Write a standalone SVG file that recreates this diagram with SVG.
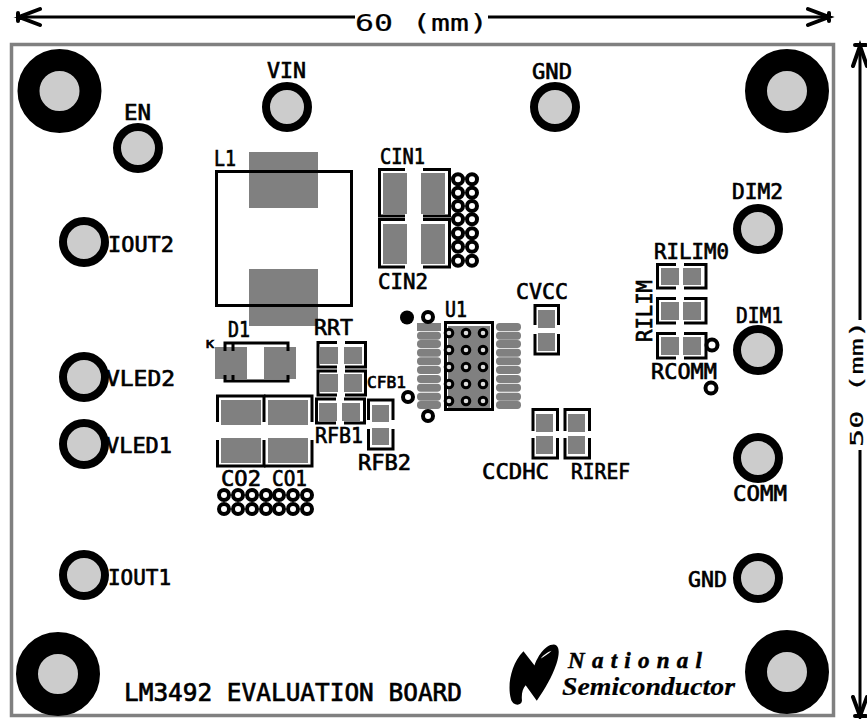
<svg xmlns="http://www.w3.org/2000/svg" width="867" height="719" viewBox="0 0 867 719">
<style>
text{font-family:"DejaVu Sans Mono","Liberation Mono",monospace;font-weight:400;font-size:22px;fill:#000;stroke:#000;stroke-width:.7px}
.pad{fill:#808080}
.ol{fill:none;stroke:#000;stroke-width:3}
.bighole{fill:#ccc;stroke:#000;stroke-width:22}
.tp{fill:#ccc;stroke:#000;stroke-width:8}
.via{fill:#fff;stroke:#000;stroke-width:4}
.uvia{fill:#ddd;stroke:#000;stroke-width:3}
.ipad{fill:#808080}
.dim{fill:none;stroke:#000;stroke-width:3}
.barb{fill:none;stroke:#000;stroke-width:4}
text.logo{font-family:"Liberation Serif",serif;font-style:italic;font-weight:700;stroke-width:.5px}
</style>
<rect width="867" height="719" fill="#fff"/>
<rect id="board" x="11.500" y="44.500" width="822" height="671" fill="none" stroke="#808080" stroke-width="3.500"/>

<g id="connectors">
<path class="dim" d="M18 17H355M488 17H829"/>
<path class="barb" d="M40 9L19 17L40 25M808 9L829 17L808 25M18 13V21M829 13V21" stroke-linecap="round"/>
<path class="dim" d="M860 46V320M860 450V716"/>
<path class="barb" d="M853 66L860 46L867 66M853 697L860 716L867 697M855 45H866M855 716H866" stroke-linecap="round"/>
</g>
<text x="355" y="31" style="font-size:23px;stroke-width:.2px" textLength="133" lengthAdjust="spacingAndGlyphs">60 (mm)</text>
<text transform="translate(863 447) rotate(-90)" style="font-size:18px;stroke-width:.2px" textLength="127" lengthAdjust="spacingAndGlyphs">50 (mm)</text>

<g id="H1"><circle class="bighole" cx="59.500" cy="91" r="31"/></g>
<g id="H2"><circle class="bighole" cx="787" cy="91" r="31"/></g>
<g id="H3"><circle class="bighole" cx="58" cy="674" r="31"/></g>
<g id="H4"><circle class="bighole" cx="787" cy="672" r="31"/></g>

<g id="VIN"><circle class="tp" cx="287" cy="107" r="21"/><text x="267" y="78" textLength="39" lengthAdjust="spacingAndGlyphs">VIN</text></g>
<g id="GND1"><circle class="tp" cx="555" cy="107" r="21"/><text x="532" y="79" textLength="40" lengthAdjust="spacingAndGlyphs">GND</text></g>
<g id="EN"><circle class="tp" cx="138" cy="148" r="21"/><text x="124" y="120" textLength="27" lengthAdjust="spacingAndGlyphs">EN</text></g>
<g id="IOUT2"><circle class="tp" cx="84" cy="242" r="21"/><text x="108" y="252" textLength="66" lengthAdjust="spacingAndGlyphs">IOUT2</text></g>
<g id="VLED2"><circle class="tp" cx="84" cy="377" r="21"/><text x="106" y="386" textLength="69" lengthAdjust="spacingAndGlyphs">VLED2</text></g>
<g id="VLED1"><circle class="tp" cx="84" cy="444" r="21"/><text x="106" y="453" textLength="66" lengthAdjust="spacingAndGlyphs">VLED1</text></g>
<g id="IOUT1"><circle class="tp" cx="84" cy="575" r="21"/><text x="108" y="585" textLength="63" lengthAdjust="spacingAndGlyphs">IOUT1</text></g>
<g id="DIM2"><circle class="tp" cx="758" cy="229" r="21"/><text x="732" y="199" textLength="51" lengthAdjust="spacingAndGlyphs">DIM2</text></g>
<g id="DIM1"><circle class="tp" cx="758" cy="350" r="21"/><text x="736" y="323" textLength="47" lengthAdjust="spacingAndGlyphs">DIM1</text></g>
<g id="COMM"><circle class="tp" cx="758" cy="458" r="21"/><text x="733" y="501" textLength="54" lengthAdjust="spacingAndGlyphs">COMM</text></g>
<g id="GND2"><circle class="tp" cx="758" cy="578" r="21"/><text x="688" y="587" textLength="39" lengthAdjust="spacingAndGlyphs">GND</text></g>

<g id="L1">
<rect class="pad" x="249" y="152" width="69" height="56"/>
<rect class="pad" x="249" y="269" width="69" height="57"/>
<rect class="ol" x="216.500" y="171.500" width="135" height="134"/>
<text x="214" y="166" textLength="22" lengthAdjust="spacingAndGlyphs">L1</text>
</g>

<g id="CIN1">
<rect class="pad" x="383" y="173" width="24" height="41"/><rect class="pad" x="421" y="173" width="24" height="41"/>
<path class="ol" d="M405 169.500H379.500V216H405M423 169.500H449.500V216H423"/>
<text x="380" y="164" textLength="45" lengthAdjust="spacingAndGlyphs">CIN1</text>
</g>
<g id="CIN2">
<rect class="pad" x="383" y="224" width="24" height="40"/><rect class="pad" x="421" y="224" width="24" height="40"/>
<path class="ol" d="M405 219.500H379.500V267H405M423 219.500H449.500V267H423"/>
<text x="378" y="289" textLength="50" lengthAdjust="spacingAndGlyphs">CIN2</text>
</g>
<g id="CIN-vias">
<circle class="via" cx="458" cy="179.300" r="5"/><circle class="via" cx="472" cy="179.300" r="5"/>
<circle class="via" cx="458" cy="192.700" r="5"/><circle class="via" cx="472" cy="192.700" r="5"/>
<circle class="via" cx="458" cy="206" r="5"/><circle class="via" cx="472" cy="206" r="5"/>
<circle class="via" cx="458" cy="219.300" r="5"/><circle class="via" cx="472" cy="219.300" r="5"/>
<circle class="via" cx="458" cy="233.300" r="5"/><circle class="via" cx="472" cy="233.300" r="5"/>
<circle class="via" cx="458" cy="246.700" r="5"/><circle class="via" cx="472" cy="246.700" r="5"/>
<circle class="via" cx="458" cy="260.700" r="5"/><circle class="via" cx="472" cy="260.700" r="5"/>
</g>

<g id="D1">
<rect class="pad" x="215" y="347" width="32" height="32"/><rect class="pad" x="264" y="347" width="32" height="32"/>
<path class="ol" d="M225 351V343H288V351M233 343V351M225 375V381H288V375M233 381V375"/>
<text x="228" y="337" textLength="22" lengthAdjust="spacingAndGlyphs">D1</text>
<text x="206" y="348" style="font-size:10px" textLength="8" lengthAdjust="spacingAndGlyphs">K</text>
</g>

<g id="RRT">
<rect class="pad" x="320" y="347" width="18" height="17"/><rect class="pad" x="344" y="347" width="18" height="17"/>
<path class="ol" d="M337 342.500H318V367H337M345 342.500H365.500V367H345"/>
<text x="314" y="335" textLength="39" lengthAdjust="spacingAndGlyphs">RRT</text>
</g>
<g id="CFB1">
<rect class="pad" x="320" y="374" width="18" height="18"/><rect class="pad" x="344" y="374" width="18" height="18"/>
<path class="ol" d="M337 371H318V395H337M345 371H365.500V395H345"/>
<text x="367" y="388" style="font-size:16px" textLength="39" lengthAdjust="spacingAndGlyphs">CFB1</text>
</g>
<g id="RFB1">
<rect class="pad" x="319" y="403" width="18" height="18"/><rect class="pad" x="342" y="403" width="18" height="18"/>
<path class="ol" d="M336 399H316.500V423H336M344 399H364.500V423H344"/>
<text x="315" y="443" textLength="48" lengthAdjust="spacingAndGlyphs">RFB1</text>
</g>
<g id="RFB2">
<rect class="pad" x="372" y="405" width="17" height="17"/><rect class="pad" x="372" y="428" width="17" height="17"/>
<path class="ol" d="M368.500 420V400H393V420M368.500 429V449H393V429"/>
<text x="358" y="470" textLength="53" lengthAdjust="spacingAndGlyphs">RFB2</text>
</g>

<g id="CO2">
<rect class="pad" x="221" y="400" width="40" height="25"/><rect class="pad" x="221" y="438" width="40" height="25"/>
<path class="ol" d="M217.500 422V396H264V422M217.500 440V466H264V440"/>
<text x="221" y="486" textLength="40" lengthAdjust="spacingAndGlyphs">CO2</text>
</g>
<g id="CO1">
<rect class="pad" x="268" y="400" width="40" height="25"/><rect class="pad" x="268" y="438" width="40" height="25"/>
<path class="ol" d="M264 396H312V422M264 466H312V440"/>
<text x="272" y="486" textLength="35" lengthAdjust="spacingAndGlyphs">CO1</text>
</g>
<g id="CO-vias">
<circle class="via" cx="224" cy="495" r="5"/><circle class="via" cx="238" cy="495" r="5"/><circle class="via" cx="252" cy="495" r="5"/><circle class="via" cx="266" cy="495" r="5"/><circle class="via" cx="279" cy="495" r="5"/><circle class="via" cx="293" cy="495" r="5"/><circle class="via" cx="307" cy="495" r="5"/>
<circle class="via" cx="224" cy="509" r="5"/><circle class="via" cx="238" cy="509" r="5"/><circle class="via" cx="252" cy="509" r="5"/><circle class="via" cx="266" cy="509" r="5"/><circle class="via" cx="279" cy="509" r="5"/><circle class="via" cx="293" cy="509" r="5"/><circle class="via" cx="307" cy="509" r="5"/>
</g>

<g id="U1">
<rect class="ipad" x="417" y="323" width="24" height="8"/>
<rect class="ipad" x="417" y="331.700" width="24" height="8" rx="3.700"/><rect class="ipad" x="417" y="340" width="24" height="8" rx="3.700"/><rect class="ipad" x="417" y="348.700" width="24" height="8" rx="3.700"/><rect class="ipad" x="417" y="357.300" width="24" height="8" rx="3.700"/><rect class="ipad" x="417" y="366" width="24" height="8" rx="3.700"/><rect class="ipad" x="417" y="375" width="24" height="8" rx="3.700"/><rect class="ipad" x="417" y="383.700" width="24" height="8" rx="3.700"/><rect class="ipad" x="417" y="392.700" width="24" height="8" rx="3.700"/><rect class="ipad" x="417" y="401" width="24" height="8" rx="3.700"/>
<rect class="ipad" x="496" y="323" width="25" height="8" rx="3.700"/><rect class="ipad" x="496" y="331.700" width="25" height="8" rx="3.700"/><rect class="ipad" x="496" y="340" width="25" height="8" rx="3.700"/><rect class="ipad" x="496" y="348.700" width="25" height="8" rx="3.700"/><rect class="ipad" x="496" y="357.300" width="25" height="8" rx="3.700"/><rect class="ipad" x="496" y="366" width="25" height="8" rx="3.700"/><rect class="ipad" x="496" y="375" width="25" height="8" rx="3.700"/><rect class="ipad" x="496" y="383.700" width="25" height="8" rx="3.700"/><rect class="ipad" x="496" y="392.700" width="25" height="8" rx="3.700"/><rect class="ipad" x="496" y="401" width="25" height="8" rx="3.700"/>
<rect class="pad" x="448" y="326" width="42" height="82"/>
<rect class="ol" x="445.500" y="322.500" width="47" height="87"/>
<g>
<circle class="uvia" cx="449" cy="333" r="3.800"/><circle class="uvia" cx="466" cy="333" r="3.800"/><circle class="uvia" cx="483" cy="333" r="3.800"/>
<circle class="uvia" cx="449" cy="350" r="3.800"/><circle class="uvia" cx="466" cy="350" r="3.800"/><circle class="uvia" cx="483" cy="350" r="3.800"/>
<circle class="uvia" cx="449" cy="367" r="3.800"/><circle class="uvia" cx="466" cy="367" r="3.800"/><circle class="uvia" cx="483" cy="367" r="3.800"/>
<circle class="uvia" cx="449" cy="384" r="3.800"/><circle class="uvia" cx="466" cy="384" r="3.800"/><circle class="uvia" cx="483" cy="384" r="3.800"/>
<circle class="uvia" cx="449" cy="401" r="3.800"/><circle class="uvia" cx="466" cy="401" r="3.800"/><circle class="uvia" cx="483" cy="401" r="3.800"/>
</g>
<text x="445" y="317" textLength="22" lengthAdjust="spacingAndGlyphs">U1</text>
</g>
<g id="U1-vias">
<circle cx="407" cy="317.500" r="7" fill="#000"/>
<circle class="via" cx="428" cy="317" r="5"/><circle class="via" cx="408" cy="397" r="5"/><circle class="via" cx="428" cy="416" r="5"/>
<circle class="via" cx="712" cy="345" r="5.500"/><circle class="via" cx="711" cy="388" r="5.500"/>
</g>

<g id="CVCC">
<rect class="pad" x="538" y="310" width="17" height="18"/><rect class="pad" x="538" y="333" width="17" height="18"/>
<path class="ol" d="M535 325V305.500H558.500V325M535 334V354H558.500V334"/>
<text x="516" y="299" textLength="52" lengthAdjust="spacingAndGlyphs">CVCC</text>
</g>
<g id="CCDHC">
<rect class="pad" x="536" y="414" width="17" height="18"/><rect class="pad" x="536" y="436" width="17" height="18"/>
<path class="ol" d="M533 431V409.500H557.500V431M533 438V458H557.500V438"/>
<text x="482" y="479" textLength="67" lengthAdjust="spacingAndGlyphs">CCDHC</text>
</g>
<g id="RIREF">
<rect class="pad" x="568" y="414" width="17" height="18"/><rect class="pad" x="568" y="436" width="17" height="18"/>
<path class="ol" d="M565 431V409.500H589.500V431M565 438V458H589.500V438"/>
<text x="571" y="479" textLength="59" lengthAdjust="spacingAndGlyphs">RIREF</text>
</g>

<g id="RILIM0">
<rect class="pad" x="661" y="268" width="18" height="17"/><rect class="pad" x="683" y="268" width="18" height="17"/>
<path class="ol" d="M676 264.500H657.500V288H676M684 264.500H706V288H684"/>
<text x="654" y="259" textLength="75" lengthAdjust="spacingAndGlyphs">RILIM0</text>
</g>
<g id="RILIM">
<rect class="pad" x="661" y="302" width="18" height="18"/><rect class="pad" x="683" y="302" width="18" height="18"/>
<path class="ol" d="M676 298.500H657.500V323H676M684 298.500H706V323H684"/>
<text transform="translate(652 342) rotate(-90)" textLength="62" lengthAdjust="spacingAndGlyphs">RILIM</text>
</g>
<g id="RCOMM">
<rect class="pad" x="661" y="337" width="18" height="18"/><rect class="pad" x="683" y="337" width="18" height="18"/>
<path class="ol" d="M676 333.500H657.500V358H676M684 333.500H706V358H684"/>
<text x="651" y="379" textLength="66" lengthAdjust="spacingAndGlyphs">RCOMM</text>
</g>

<g id="title"><text x="124" y="700.500" style="font-size:24.600px" textLength="338" lengthAdjust="spacingAndGlyphs">LM3492 EVALUATION BOARD</text></g>

<g id="logo">
<path transform="translate(502 641) scale(.37 .34)" d="M58 30L88 72C94 50 115 10 140 10C158 12 155 42 147 68C134 108 118 138 94 176L64 130C56 140 52 155 54 175C54 192 28 192 24 170C14 130 24 68 58 30Z" fill="#000"/>
<path transform="translate(502 641) scale(.37 .34)" d="M104 52C112 42 122 33 134 29C126 38 114 46 104 52Z" fill="#fff"/>
<text class="logo" x="568" y="668" style="font-size:23px" textLength="134">National</text>
<text class="logo" x="562" y="695" style="font-size:26px;stroke-width:.2px" textLength="173" lengthAdjust="spacingAndGlyphs">Semiconductor</text>
</g>
</svg>
